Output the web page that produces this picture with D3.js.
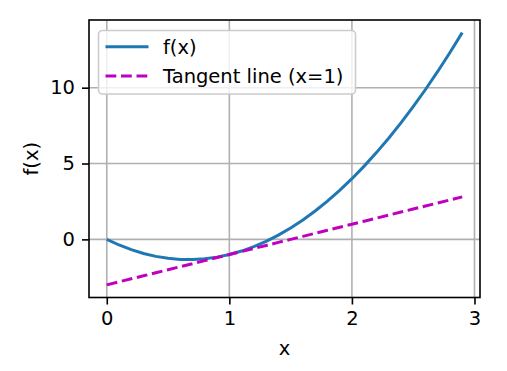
<!DOCTYPE html>
<html>
<head>
<meta charset="utf-8">
<script src="https://cdn.jsdelivr.net/npm/d3@7"></script>
<style>
  body { margin: 0; background: #fff; }
  svg text { font-family: "DejaVu Sans", sans-serif; }
</style>
</head>
<body>
<svg id="chart" width="507" height="371"></svg>
<script>
const xs = [0, 0.1, 0.2, 0.3, 0.4, 0.5, 0.6, 0.7, 0.8, 0.9,
            1.0, 1.1, 1.2, 1.3, 1.4, 1.5, 1.6, 1.7, 1.8, 1.9,
            2.0, 2.1, 2.2, 2.3, 2.4, 2.5, 2.6, 2.7, 2.8, 2.9];
const fx = [0, -0.37, -0.68, -0.93, -1.12, -1.25, -1.32, -1.33, -1.28, -1.17,
            -1, -0.77, -0.48, -0.13, 0.28, 0.75, 1.28, 1.87, 2.52, 3.23,
            4, 4.83, 5.72, 6.67, 7.68, 8.75, 9.88, 11.07, 12.32, 13.63];
const tangent = [-3, -2.8, -2.6, -2.4, -2.2, -2, -1.8, -1.6, -1.4, -1.2,
                 -1, -0.8, -0.6, -0.4, -0.2, 0, 0.2, 0.4, 0.6, 0.8,
                 1, 1.2, 1.4, 1.6, 1.8, 2, 2.2, 2.4, 2.6, 2.8];
const xTicks = [0, 1, 2, 3];
const yTicks = [0, 5, 10];
const seriesNames = ['f(x)', 'Tangent line (x=1)'];

const plotLeft = 89, plotRight = 480, plotTop = 20, plotBottom = 297.5;
const fontSize = '19.5px';
const dash = '10.8,4.7';
const svg = d3.select('#chart');

const x = d3.scaleLinear().domain([-0.145, 3.045]).range([plotLeft, plotRight]);
const y = d3.scaleLinear().domain([-3.8315, 14.4615]).range([plotBottom, plotTop]);

// grid
const grid = svg.append('g');
grid.selectAll('.gx').data(xTicks).enter().append('line')
    .attr('x1', d => x(d)).attr('x2', d => x(d))
    .attr('y1', plotTop).attr('y2', plotBottom)
    .attr('stroke', '#b0b0b0').attr('stroke-width', 1.6);
grid.selectAll('.gy').data(yTicks).enter().append('line')
    .attr('x1', plotLeft).attr('x2', plotRight)
    .attr('y1', d => y(d)).attr('y2', d => y(d))
    .attr('stroke', '#b0b0b0').attr('stroke-width', 1.6);

// lines
const pts = (ys) => xs.map((v, i) => [v, ys[i]]);
const line = d3.line().x(d => x(d[0])).y(d => y(d[1]));

svg.append('path')
    .attr('d', line(pts(fx)))
    .attr('fill', 'none')
    .attr('stroke', '#1f77b4')
    .attr('stroke-width', 3);

svg.append('path')
    .attr('d', line(pts(tangent)))
    .attr('fill', 'none')
    .attr('stroke', '#bf00bf')
    .attr('stroke-width', 3)
    .attr('stroke-dasharray', dash);

// axes
const xAxis = svg.append('g')
    .attr('transform', `translate(0,${plotBottom})`)
    .call(d3.axisBottom(x).tickValues(xTicks).tickSize(7).tickPadding(7).tickFormat(d3.format('d')));
const yAxis = svg.append('g')
    .attr('transform', `translate(${plotLeft},0)`)
    .call(d3.axisLeft(y).tickValues(yTicks).tickSize(7).tickPadding(7).tickFormat(d3.format('d')));

[xAxis, yAxis].forEach(a => {
    a.select('.domain').remove();
    a.selectAll('.tick line').attr('stroke', '#000').attr('stroke-width', 1.6);
    a.selectAll('.tick text').attr('fill', '#000')
        .style('font-size', fontSize)
        .style('font-family', '"DejaVu Sans", sans-serif');
});

svg.append('rect')
    .attr('x', plotLeft).attr('y', plotTop)
    .attr('width', plotRight - plotLeft).attr('height', plotBottom - plotTop)
    .attr('fill', 'none').attr('stroke', '#000').attr('stroke-width', 1.6);

// axis labels
svg.append('text')
    .attr('x', (plotLeft + plotRight) / 2).attr('y', 355)
    .attr('text-anchor', 'middle')
    .style('font-size', fontSize)
    .text('x');

svg.append('text')
    .attr('transform', `translate(38,${(plotTop + plotBottom) / 2}) rotate(-90)`)
    .attr('text-anchor', 'middle')
    .style('font-size', fontSize)
    .text('f(x)');

// legend
const legend = svg.append('g');
legend.append('rect')
    .attr('x', 98.5).attr('y', 30.5)
    .attr('width', 257).attr('height', 63.5)
    .attr('rx', 4)
    .attr('fill', '#fff').attr('fill-opacity', 0.8)
    .attr('stroke', '#cccccc').attr('stroke-width', 1.6);

const legendStyles = [
    { color: '#1f77b4', dash: null },
    { color: '#bf00bf', dash: dash }
];
seriesNames.forEach((name, i) => {
    const ly = 46.7 + i * 29.3;
    legend.append('line')
        .attr('x1', 105.5).attr('x2', 148.5)
        .attr('y1', ly).attr('y2', ly)
        .attr('stroke', legendStyles[i].color)
        .attr('stroke-width', 3)
        .attr('stroke-dasharray', legendStyles[i].dash);
    legend.append('text')
        .attr('x', 163).attr('y', ly + 6.8)
        .style('font-size', fontSize)
        .text(name);
});
</script>
</body>
</html>
